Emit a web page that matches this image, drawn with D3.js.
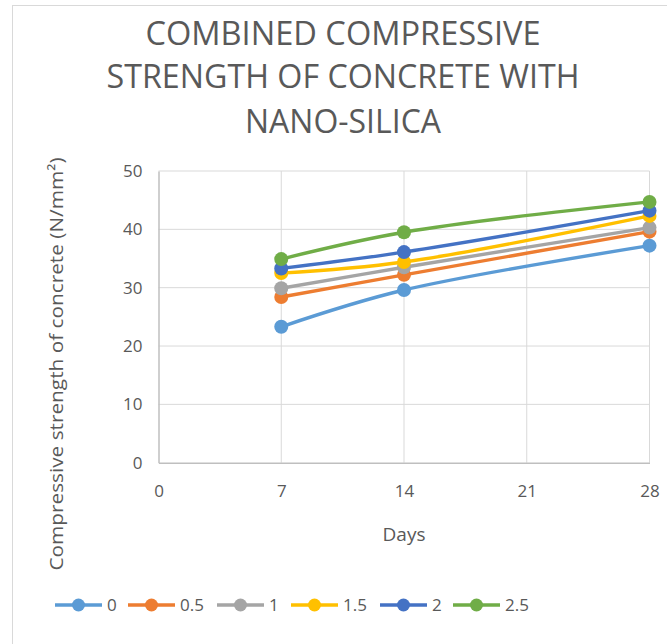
<!DOCTYPE html>
<html><head><meta charset="utf-8">
<script src="https://cdn.jsdelivr.net/npm/d3@7"></script>
<style>body{margin:0;background:#fff}svg{display:block}text{font-family:"Open Sans","Noto Sans",sans-serif;fill:#595959}</style>
</head><body><svg id="c" width="667" height="644"></svg>
<script>
const days = [7, 14, 28];
const seriesNames = ["0", "0.5", "1", "1.5", "2", "2.5"];
const s0   = [23.3, 29.6, 37.2];
const s05  = [28.4, 32.2, 39.6];
const s1   = [29.9, 33.5, 40.3];
const s15  = [32.5, 34.4, 42.3];
const s2   = [33.3, 36.1, 43.2];
const s25  = [34.9, 39.5, 44.7];
const seriesValues = [s0, s05, s1, s15, s2, s25];
const colors = ["#5B9BD5", "#ED7D31", "#A5A5A5", "#FFC000", "#4472C4", "#70AD47"];
const xTicks = [0, 7, 14, 21, 28];
const yTicks = [0, 10, 20, 30, 40, 50];
const titleLines = ["COMBINED COMPRESSIVE", "STRENGTH OF CONCRETE WITH", "NANO-SILICA"];

const svg = d3.select("#c");
svg.append("rect").attr("x", 12.5).attr("y", 5.5).attr("width", 700).attr("height", 700)
  .attr("fill", "#fff").attr("stroke", "#D9D9D9");

const x = d3.scaleLinear().domain([0, 28]).range([158.5, 649.5]);
const y = d3.scaleLinear().domain([0, 50]).range([462.7, 171]);

// title
const tl = [{w:395, b:45}, {w:473, b:88}, {w:196, b:133}];
titleLines.forEach((t, i) => {
  svg.append("text").attr("x", 343).attr("y", tl[i].b).attr("text-anchor", "middle")
    .attr("font-size", 32).attr("textLength", tl[i].w).attr("lengthAdjust", "spacingAndGlyphs").text(t);
});

// gridlines
const g = svg.append("g");
g.selectAll(".hg").data(yTicks.filter(d => d > 0)).join("line")
  .attr("x1", x(0)).attr("x2", x(28)).attr("y1", d => y(d)).attr("y2", d => y(d))
  .attr("stroke", "#D9D9D9").attr("stroke-width", 1);
g.selectAll(".vg").data(xTicks.filter(d => d > 0)).join("line")
  .attr("x1", d => x(d)).attr("x2", d => x(d)).attr("y1", y(0)).attr("y2", y(50))
  .attr("stroke", "#D9D9D9").attr("stroke-width", 1);

// axes
const yAxis = svg.append("g").attr("transform", `translate(${x(0)},0)`)
  .call(d3.axisLeft(y).tickValues(yTicks).tickSize(0).tickPadding(16));
yAxis.select(".domain").attr("stroke", "#BFBFBF").attr("stroke-width", 1.5);
yAxis.selectAll("text").attr("font-size", 17).style("fill", "#595959");
const xAxis = svg.append("g").attr("transform", `translate(0,${y(0)})`)
  .call(d3.axisBottom(x).tickValues(xTicks).tickSize(0).tickPadding(22));
xAxis.select(".domain").attr("stroke", "#BFBFBF").attr("stroke-width", 1.5);
xAxis.selectAll("text").attr("font-size", 17).style("fill", "#595959");

// axis titles
svg.append("text").attr("x", 404).attr("y", 541).attr("text-anchor", "middle").attr("font-size", 19).text("Days");
svg.append("text").attr("transform", "translate(63,364) rotate(-90)").attr("text-anchor", "middle")
  .attr("font-size", 19).attr("textLength", 413).attr("lengthAdjust", "spacingAndGlyphs")
  .text("Compressive strength of concrete (N/mm²)");

// series
const line = d3.line().x((d, i) => x(days[i])).y(d => y(d)).curve(d3.curveCatmullRom.alpha(0.5));
seriesValues.forEach((vals, si) => {
  const sg = svg.append("g");
  sg.append("path").attr("d", line(vals)).attr("fill", "none").attr("stroke", colors[si]).attr("stroke-width", 3.4);
  sg.selectAll("circle").data(vals).join("circle")
    .attr("cx", (d, i) => x(days[i])).attr("cy", d => y(d)).attr("r", 7).attr("fill", colors[si]);
});

// legend
const legX = [55, 128, 217, 291, 380, 453];
const lg = svg.append("g");
seriesNames.forEach((n, i) => {
  lg.append("line").attr("x1", legX[i]).attr("x2", legX[i] + 47).attr("y1", 605).attr("y2", 605)
    .attr("stroke", colors[i]).attr("stroke-width", 3.4);
  lg.append("circle").attr("cx", legX[i] + 23.5).attr("cy", 605).attr("r", 6.5).attr("fill", colors[i]);
  lg.append("text").attr("x", legX[i] + 52).attr("y", 611).attr("font-size", 17).text(n);
});
</script></body></html>
